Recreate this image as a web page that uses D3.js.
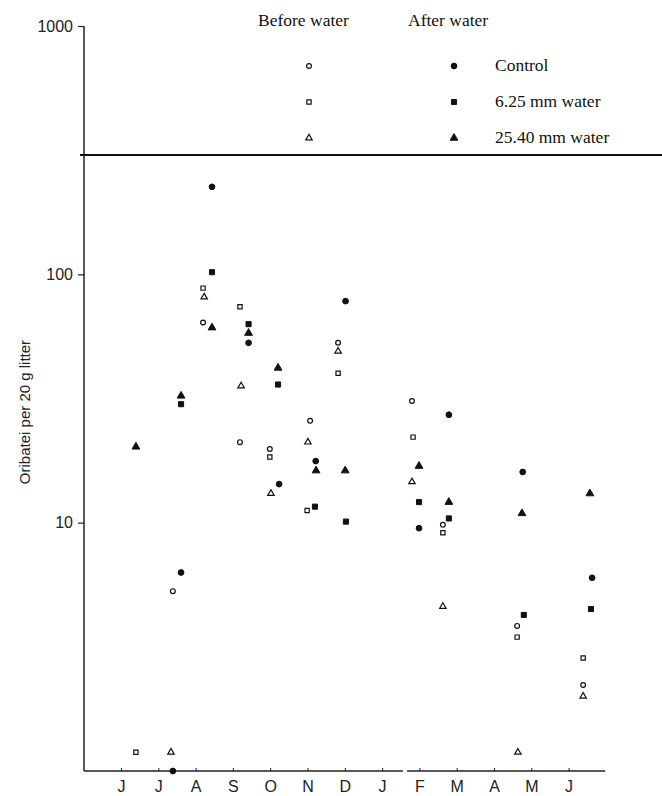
<!DOCTYPE html>
<html>
<head>
<meta charset="utf-8">
<script src="https://cdn.jsdelivr.net/npm/d3@7"></script>
<style>
  body { margin: 0; background: #fff; }
  svg { display: block; }
</style>
</head>
<body>
<div id="chart"></div>
<script>
// month labels, June -> June (index 0..12)
const months = ["J", "J", "A", "S", "O", "N", "D", "J", "F", "M", "A", "M", "J"];
const yTicks = [10, 100, 1000];

// [month position, oribatei per 20 g litter]
const beforeControl = [[1.39, 5.3], [2.20, 64], [3.19, 21.1], [3.99, 19.8], [5.07, 25.7], [5.82, 53], [7.80, 30.9], [8.63, 9.8], [10.62, 3.84], [12.39, 2.22]];
const before625 = [[0.40, 1.19], [2.20, 88], [3.19, 74], [3.99, 18.4], [4.99, 11.2], [5.82, 40], [7.83, 22.1], [8.63, 9.1], [10.62, 3.46], [12.39, 2.85]];
const before2540 = [[1.34, 1.19], [2.23, 81], [3.22, 35.5], [4.02, 13.1], [5.01, 21.1], [5.82, 49], [7.80, 14.6], [8.63, 4.6], [10.64, 1.19], [12.39, 2.0]];
const afterControl = [[1.39, 1], [1.61, 6.3], [2.44, 225], [3.42, 53], [4.24, 14.3], [5.22, 17.7], [6.02, 78], [7.99, 9.5], [8.79, 27.2], [10.77, 16.0], [12.63, 6.0]];
const after625 = [[1.61, 30], [2.44, 102], [3.42, 63], [4.21, 36], [5.20, 11.6], [6.03, 10.1], [7.99, 12.1], [8.79, 10.4], [10.80, 4.25], [12.60, 4.49]];
const after2540 = [[0.40, 20.2], [1.61, 32.4], [2.44, 61], [3.42, 58], [4.21, 42], [5.23, 16.2], [6.01, 16.2], [7.99, 16.9], [8.79, 12.1], [10.75, 10.9], [12.57, 13.1]];

const series = [
  { name: "Control", data: beforeControl, shape: d3.symbolCircle, filled: false, col: 0, row: 0 },
  { name: "6.25 mm water", data: before625, shape: d3.symbolSquare, filled: false, col: 0, row: 1 },
  { name: "25.40 mm water", data: before2540, shape: d3.symbolTriangle, filled: false, col: 0, row: 2 },
  { name: "Control", data: afterControl, shape: d3.symbolCircle, filled: true, col: 1, row: 0 },
  { name: "6.25 mm water", data: after625, shape: d3.symbolSquare, filled: true, col: 1, row: 1 },
  { name: "25.40 mm water", data: after2540, shape: d3.symbolTriangle, filled: true, col: 1, row: 2 }
];

const width = 662, height = 796;

const svg = d3.select("#chart").append("svg")
  .attr("width", width)
  .attr("height", height);

const x = d3.scaleLinear().domain([0, 12]).range([121, 568.6]);
const y = d3.scaleLog().domain([1, 1000]).range([771, 26]);

// small printed markers, filled ones a touch bigger
function drawMarks(sel, s) {
  const size = s.filled ? 26 : 18;
  sel.attr("d", d3.symbol().type(s.shape).size(size))
    .attr("fill", s.filled ? "#111" : "#fff")
    .attr("stroke", "#111")
    .attr("stroke-width", s.filled ? 1 : 1.2);
}

// y axis
const yAxis = svg.append("g")
  .attr("transform", "translate(84,0)")
  .call(d3.axisLeft(y).tickValues(yTicks).tickFormat(d3.format("d")).tickSize(6).tickPadding(5));
yAxis.select(".domain").attr("d", "M0," + y(1) + "V" + y(1000)).attr("stroke", "#222").attr("stroke-width", 1.5);
yAxis.selectAll(".tick line").attr("stroke", "#222").attr("stroke-width", 1.2);
yAxis.selectAll("text")
  .attr("font-family", "'Liberation Sans', Arial, sans-serif")
  .attr("font-size", 16)
  .attr("fill", "#222");

// x axis with a break between J and F
const xAxis = svg.append("g")
  .attr("transform", "translate(0," + y(1) + ")")
  .call(d3.axisBottom(x).tickValues(d3.range(months.length)).tickFormat(i => months[i]).tickSize(-3).tickPadding(10));
xAxis.select(".domain").remove();
xAxis.selectAll(".tick line").attr("stroke", "#222").attr("stroke-width", 1);
xAxis.selectAll("text")
  .attr("font-family", "'Liberation Sans', Arial, sans-serif")
  .attr("font-size", 16)
  .attr("fill", "#222");
[[-0.99, 7.56], [7.67, 12.98]].forEach(seg => {
  xAxis.append("line")
    .attr("x1", x(seg[0])).attr("x2", x(seg[1]))
    .attr("y1", 0).attr("y2", 0)
    .attr("stroke", "#222").attr("stroke-width", 1.5);
});

// y axis title
svg.append("text")
  .attr("transform", "translate(30,412) rotate(-90)")
  .attr("text-anchor", "middle")
  .attr("font-family", "'Liberation Sans', Arial, sans-serif")
  .attr("font-size", 15)
  .attr("fill", "#222")
  .text("Oribatei per 20 g litter");

// legend box rule
svg.append("line")
  .attr("x1", 80).attr("x2", 662)
  .attr("y1", 155).attr("y2", 155)
  .attr("stroke", "#111").attr("stroke-width", 2);

// legend
const legendX = [309, 454];
const legendY = [66, 102, 138];
const serif = "'Liberation Serif', 'Times New Roman', serif";
svg.append("text").attr("x", 258).attr("y", 26)
  .attr("font-family", serif).attr("font-size", 17.5).attr("fill", "#111").text("Before water");
svg.append("text").attr("x", 408).attr("y", 26)
  .attr("font-family", serif).attr("font-size", 17.5).attr("fill", "#111").text("After water");

series.forEach(s => {
  svg.append("path")
    .attr("transform", "translate(" + legendX[s.col] + "," + legendY[s.row] + ")")
    .call(drawMarks, s);
  if (s.col === 1) {
    svg.append("text")
      .attr("x", 495).attr("y", legendY[s.row] + 5)
      .attr("font-family", serif).attr("font-size", 17.5).attr("fill", "#111")
      .text(s.name);
  }
});

// points
series.forEach(s => {
  svg.append("g").selectAll("path")
    .data(s.data)
    .enter()
    .append("path")
    .attr("transform", d => "translate(" + x(d[0]) + "," + y(d[1]) + ")")
    .call(drawMarks, s);
});
</script>
</body>
</html>
